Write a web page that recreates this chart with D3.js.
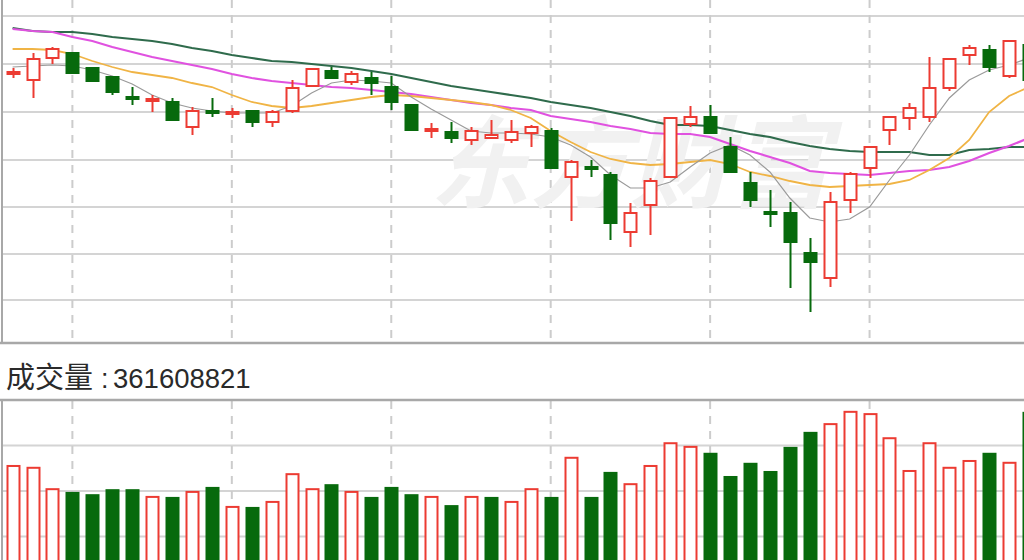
<!DOCTYPE html>
<html><head><meta charset="utf-8">
<script src="https://cdn.jsdelivr.net/npm/d3@7"></script>
<style>html,body{margin:0;padding:0;background:#fff;overflow:hidden}</style>
</head><body>
<svg id="c" width="1024" height="560"></svg>
<script>
// ---- data ----
const openP  = [11.26,11.20,11.42,11.47,11.32,11.23,11.03,10.99,10.98,10.73,10.89,10.86,10.89,10.78,10.89,11.14,11.29,11.18,11.22,11.13,10.95,10.69,10.68,10.60,10.62,10.60,10.67,10.69,10.23,10.33,10.25,9.68,9.95,10.23,10.76,10.83,10.53,10.17,9.88,9.87,9.47,9.22,10.00,10.32,10.70,10.82,10.83,11.12,11.45,11.50,11.24,11.55];
const highP  = [11.32,11.47,11.53,11.48,11.33,11.24,11.13,11.05,11.02,10.93,11.02,10.92,10.90,10.90,11.20,11.32,11.33,11.29,11.28,11.24,10.96,10.77,10.78,10.73,10.80,10.80,10.75,10.72,10.40,10.40,10.28,9.97,10.22,10.83,10.94,10.95,10.63,10.28,10.10,9.98,9.62,10.08,10.28,10.54,10.84,10.97,11.43,11.42,11.55,11.55,11.60,11.56];
const lowP   = [11.22,11.02,11.36,11.26,11.18,11.05,10.95,10.88,10.79,10.65,10.83,10.82,10.73,10.73,10.87,11.13,11.21,11.15,11.05,10.90,10.69,10.62,10.57,10.55,10.62,10.57,10.53,10.31,9.79,10.23,9.60,9.53,9.65,10.22,10.73,10.66,10.27,9.93,9.73,9.12,8.88,9.13,9.87,10.22,10.55,10.70,10.78,11.09,11.35,11.28,11.22,11.18];
const closeP = [11.28,11.41,11.51,11.27,11.19,11.08,11.01,11.01,10.80,10.89,10.87,10.88,10.78,10.88,11.12,11.31,11.22,11.26,11.17,10.98,10.70,10.71,10.62,10.69,10.65,10.68,10.73,10.32,10.38,10.31,9.77,9.87,10.19,10.82,10.83,10.67,10.28,10.00,9.86,9.58,9.38,9.98,10.26,10.53,10.83,10.92,11.12,11.41,11.52,11.33,11.59,11.20];

const ma5  = [11.33,11.34,11.35,11.34,11.30,11.24,11.16,11.05,10.97,10.92,10.89,10.87,10.87,10.87,10.94,11.07,11.17,11.20,11.19,11.17,11.03,10.91,10.80,10.69,10.67,10.67,10.66,10.63,10.55,10.43,10.25,10.12,10.12,10.18,10.33,10.47,10.55,10.45,10.28,10.02,9.82,9.78,9.81,9.93,10.20,10.45,10.75,11.02,11.20,11.30,11.35,11.42];
const ma10 = [11.51,11.51,11.50,11.46,11.39,11.33,11.28,11.25,11.22,11.17,11.13,11.05,10.98,10.94,10.92,10.94,10.97,11.00,11.03,11.05,11.04,11.02,11.00,10.98,10.95,10.90,10.82,10.69,10.58,10.48,10.41,10.37,10.35,10.36,10.38,10.40,10.36,10.28,10.24,10.19,10.15,10.13,10.14,10.15,10.16,10.20,10.30,10.42,10.60,10.88,11.04,11.13];
const ma20 = [11.71,11.69,11.68,11.63,11.59,11.53,11.48,11.43,11.39,11.35,11.31,11.26,11.22,11.19,11.17,11.15,11.13,11.12,11.10,11.08,11.06,11.03,11.00,10.97,10.95,10.92,10.90,10.84,10.81,10.78,10.74,10.71,10.67,10.66,10.66,10.63,10.56,10.49,10.43,10.37,10.29,10.27,10.26,10.25,10.27,10.29,10.30,10.33,10.39,10.47,10.54,10.62];
const ma60 = [11.72,11.69,11.68,11.68,11.66,11.63,11.61,11.59,11.56,11.52,11.49,11.45,11.42,11.39,11.38,11.36,11.34,11.32,11.29,11.26,11.22,11.18,11.14,11.11,11.08,11.05,11.02,10.98,10.95,10.92,10.88,10.84,10.79,10.75,10.75,10.74,10.70,10.66,10.63,10.58,10.54,10.51,10.49,10.48,10.48,10.48,10.45,10.45,10.50,10.51,10.53,10.53];

// volume in millions of shares, and the bar colour side (r = up, g = down)
const volume  = [455,451,404,398,393,404,404,387,387,398,409,365,365,376,437,404,415,398,387,409,393,387,369,387,387,376,404,387,473,387,442,415,455,505,497,484,433,462,444,497,530,547,574,569,516,444,505,451,466,484,462,574];
const volSide = ["r","r","r","g","g","g","g","r","g","r","g","r","g","r","r","r","g","r","g","g","g","r","g","r","g","r","r","g","r","g","g","r","r","r","r","g","g","g","g","g","g","r","r","r","r","r","r","r","r","g","r","g"];

const priceGrid = [11.84,11.36,10.88,10.40,9.93,9.46,9.00];
const volGrid   = [500,400,300];
const vGridIdx  = [3,11,19,27,35,43];
const volLabel  = "成交量";
const volValue  = "361608821";
const watermark = "东方财富";

// ---- drawing ----
const RED = "#ec3b32", GREEN = "#076a0c";
const svg = d3.select("#c");
const n = closeP.length;
const x  = d3.scaleLinear().domain([0, n - 1]).range([12.6, 1029]);
const yP = d3.scaleLinear().domain([8.57, 12]).range([343, 0]);
const yV = d3.scaleLinear().domain([0, 600]).range([673, 400]);
const idx = d3.range(n);

const defs = svg.append("defs");
defs.append("clipPath").attr("id","cp").append("rect").attr("x",3).attr("y",0).attr("width",1030).attr("height",342);
defs.append("clipPath").attr("id","cv").append("rect").attr("x",3).attr("y",401).attr("width",1030).attr("height",200);

// price panel grid
const gP = svg.append("g");
gP.selectAll("line.h").data(priceGrid).join("line")
  .attr("x1",2).attr("x2",1024).attr("y1",d=>yP(d)).attr("y2",d=>yP(d))
  .attr("stroke","#d4d4d4").attr("stroke-width",2);
gP.selectAll("line.v").data(vGridIdx).join("line")
  .attr("x1",d=>x(d)).attr("x2",d=>x(d)).attr("y1",0).attr("y2",342)
  .attr("stroke","#cccccc").attr("stroke-width",2).attr("stroke-dasharray","8,7");

// watermark
svg.append("text").attr("x",430).attr("y",200).text(watermark)
  .attr("font-family","Noto Sans CJK SC").attr("font-weight","bold").attr("font-style","italic")
  .attr("font-size",100).attr("fill","#f1f1f1");

// volume panel grid
const gV = svg.append("g");
gV.selectAll("line").data(volGrid).join("line")
  .attr("x1",2).attr("x2",1024).attr("y1",d=>yV(d)).attr("y2",d=>yV(d))
  .attr("stroke","#d4d4d4").attr("stroke-width",2);
gV.selectAll("line.v").data(vGridIdx).join("line")
  .attr("x1",d=>x(d)).attr("x2",d=>x(d)).attr("y1",401).attr("y2",560)
  .attr("stroke","#cccccc").attr("stroke-width",2).attr("stroke-dasharray","8,7");

// borders
svg.append("line").attr("x1",0).attr("x2",1024).attr("y1",343).attr("y2",343).attr("stroke","#a8a8a8").attr("stroke-width",2.5);
svg.append("line").attr("x1",0).attr("x2",1024).attr("y1",400).attr("y2",400).attr("stroke","#a8a8a8").attr("stroke-width",2.5);
svg.append("line").attr("x1",2).attr("x2",2).attr("y1",0).attr("y2",343).attr("stroke","#a8a8a8").attr("stroke-width",2);
svg.append("line").attr("x1",2).attr("x2",2).attr("y1",400).attr("y2",560).attr("stroke","#a8a8a8").attr("stroke-width",2);

// moving averages
const gM = svg.append("g").attr("clip-path","url(#cp)");
const maDefs = [
  {v: ma60, c: "#2f6b4c", w: 2.2},
  {v: ma20, c: "#e052e0", w: 2.2},
  {v: ma10, c: "#f0b445", w: 1.8},
  {v: ma5,  c: "#9a9a9a", w: 1.2}
];
maDefs.forEach(m => {
  gM.append("path").datum(idx)
    .attr("d", d3.line().x(i=>x(i)).y(i=>yP(m.v[i])))
    .attr("fill","none").attr("stroke",m.c).attr("stroke-width",m.w);
});

// candles
const bw = 12;
const gC = svg.append("g").attr("clip-path","url(#cp)");
idx.forEach(i => {
  const up = closeP[i] >= openP[i];
  const col = up ? RED : GREEN;
  const top = yP(Math.max(openP[i], closeP[i]));
  const bot = yP(Math.min(openP[i], closeP[i]));
  const cx = Math.round(x(i)) + 0.5;
  if (up) {
    gC.append("line").attr("x1",cx).attr("x2",cx).attr("y1",yP(highP[i])).attr("y2",top).attr("stroke",col).attr("stroke-width",2);
    gC.append("line").attr("x1",cx).attr("x2",cx).attr("y1",bot).attr("y2",yP(lowP[i])).attr("stroke",col).attr("stroke-width",2);
    gC.append("rect").attr("x",cx-bw/2).attr("y",top).attr("width",bw).attr("height",Math.max(bot-top,1))
      .attr("fill","#fff").attr("stroke",col).attr("stroke-width",2);
  } else {
    gC.append("line").attr("x1",cx).attr("x2",cx).attr("y1",yP(highP[i])).attr("y2",yP(lowP[i])).attr("stroke",col).attr("stroke-width",2);
    gC.append("rect").attr("x",cx-bw/2-1).attr("y",top-1).attr("width",bw+2).attr("height",Math.max(bot-top,0)+2)
      .attr("fill",col);
  }
});

// volume bars
const gB = svg.append("g").attr("clip-path","url(#cv)");
idx.forEach(i => {
  const cx = Math.round(x(i)) + 0.5;
  const isUp = volSide[i] === "r";
  const r = gB.append("rect").attr("x",cx-6).attr("y",yV(volume[i])).attr("width",12).attr("height",yV(0)-yV(volume[i]));
  if (isUp) r.attr("fill","#fff").attr("stroke",RED).attr("stroke-width",2);
  else r.attr("x",cx-7).attr("width",14).attr("fill",GREEN);
});

// volume label
const t = svg.append("text").attr("x",6).attr("y",388).attr("fill","#2a2a2a");
t.append("tspan").attr("font-family","Noto Sans CJK SC, sans-serif").attr("font-size",29).text(volLabel);
t.append("tspan").attr("x",101).attr("font-family","Liberation Sans, Arial, sans-serif").attr("font-size",27).text(":");
t.append("tspan").attr("x",113).attr("font-family","Liberation Sans, Arial, sans-serif").attr("font-size",27.5).text(volValue);
</script>
</body></html>
